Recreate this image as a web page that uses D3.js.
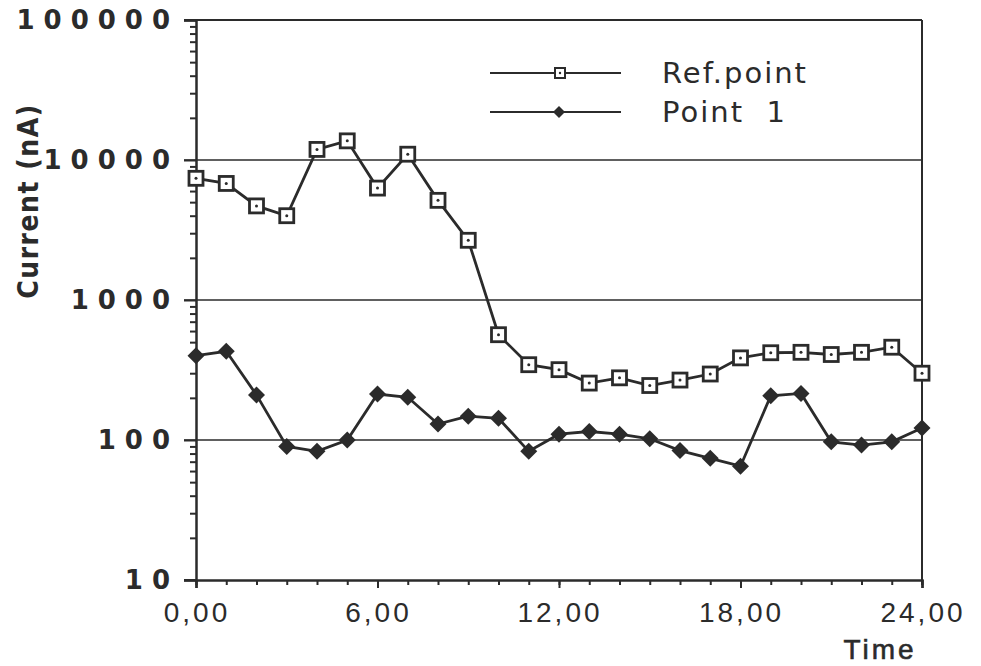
<!DOCTYPE html>
<html>
<head>
<meta charset="utf-8">
<script src="https://cdn.jsdelivr.net/npm/d3@7"></script>
<style>
  html, body { margin: 0; padding: 0; background: #fff; }
  svg { display: block; }
</style>
</head>
<body>
<svg id="chart" width="981" height="666"></svg>
<script>
const hours = d3.range(0, 25);
const refPoint = [7400, 6800, 4700, 4000, 11900, 13700, 6300, 11000, 5150, 2670, 565, 345, 318, 255, 278, 245, 268, 296, 386, 420, 423, 408, 423, 460, 300];
const point1 = [400, 430, 210, 90, 83, 100, 213, 202, 130, 148, 143, 83, 110, 115, 110, 102, 84, 74, 65, 207, 215, 97, 92, 97, 122];
const yTicks = [10, 100, 1000, 10000, 100000];
const xTicks = [0, 6, 12, 18, 24];
const xTickLabels = ["0,00", "6,00", "12,00", "18,00", "24,00"];
const gridValues = [100, 1000, 10000];

const ink = "#2b2b2b";
const svg = d3.select("#chart");
const x = d3.scaleLinear().domain([0, 24]).range([196, 922]);
const y = d3.scaleLog().domain([10, 100000]).range([580, 20]);

// gridlines
svg.append("g").selectAll("line").data(gridValues).join("line")
  .attr("x1", x(0) - 12).attr("x2", x(24))
  .attr("y1", d => y(d)).attr("y2", d => y(d))
  .attr("stroke", ink).attr("stroke-width", 1.6);

// top and right frame
svg.append("line").attr("x1", x(0) - 12).attr("x2", x(24)).attr("y1", y(100000)).attr("y2", y(100000))
  .attr("stroke", ink).attr("stroke-width", 2);
svg.append("line").attr("x1", x(24)).attr("x2", x(24)).attr("y1", y(100000)).attr("y2", y(10) + 5)
  .attr("stroke", ink).attr("stroke-width", 2);

// y axis
const minorY = [];
for (let e = 1; e < 5; e++) for (let m = 2; m <= 9; m++) minorY.push(m * Math.pow(10, e));
const yAxis = d3.axisLeft(y).tickValues(yTicks).tickSize(12).tickFormat("");
const gy = svg.append("g").attr("transform", `translate(${x(0)},0)`).call(yAxis);
gy.select(".domain").attr("stroke", ink).attr("stroke-width", 2.5);
gy.selectAll(".tick line").attr("stroke", ink).attr("stroke-width", 2);
const gyMinor = svg.append("g").attr("transform", `translate(${x(0)},0)`)
  .call(d3.axisLeft(y).tickValues(minorY).tickSize(6).tickFormat(""));
gyMinor.select(".domain").remove();
gyMinor.selectAll(".tick line").attr("stroke", ink).attr("stroke-width", 2);

svg.append("g").selectAll("text").data(yTicks).join("text")
  .attr("x", 179).attr("y", d => y(d)).attr("dy", "0.36em")
  .attr("text-anchor", "end")
  .attr("font-family", "DejaVu Sans, sans-serif").attr("font-weight", "bold").attr("font-size", 26)
  .attr("letter-spacing", 9).attr("fill", ink)
  .text(d => String(d));

// x axis
const xAxis = d3.axisBottom(x).tickValues(xTicks).tickSize(8).tickFormat("");
const gx = svg.append("g").attr("transform", `translate(0,${y(10)})`).call(xAxis);
gx.select(".domain").attr("stroke", ink).attr("stroke-width", 2.5);
gx.selectAll(".tick line").attr("stroke", ink).attr("stroke-width", 2);
const gxMinor = svg.append("g").attr("transform", `translate(0,${y(10)})`)
  .call(d3.axisBottom(x).tickValues(hours).tickSize(5).tickFormat(""));
gxMinor.select(".domain").remove();
gxMinor.selectAll(".tick line").attr("stroke", ink).attr("stroke-width", 2);
svg.append("line").attr("x1", x(0) - 12).attr("x2", x(0)).attr("y1", y(10)).attr("y2", y(10))
  .attr("stroke", ink).attr("stroke-width", 2);

svg.append("g").selectAll("text").data(xTicks).join("text")
  .attr("x", d => x(d) + 1).attr("y", 622)
  .attr("text-anchor", "middle")
  .attr("font-family", "Liberation Sans Narrow, Liberation Sans, sans-serif").attr("font-size", 28)
  .attr("letter-spacing", 3).attr("fill", ink)
  .text((d, i) => xTickLabels[i]);

svg.append("text").attr("x", 880).attr("y", 659).attr("text-anchor", "middle")
  .attr("font-family", "Liberation Sans Narrow, Liberation Sans, sans-serif").attr("font-size", 28)
  .attr("stroke", ink).attr("stroke-width", 0.6)
  .attr("letter-spacing", 3).attr("fill", ink).text("Time");

svg.append("text").attr("transform", "translate(38,201) rotate(-90)")
  .attr("text-anchor", "middle")
  .attr("font-family", "DejaVu Sans Condensed, DejaVu Sans, sans-serif").attr("font-weight", "bold")
  .attr("font-size", 28).attr("letter-spacing", 1.5).attr("fill", ink).text("Current (nA)");

// lines
const line = d3.line().x((d, i) => x(hours[i])).y(d => y(d));
svg.append("path").datum(refPoint).attr("d", line).attr("fill", "none")
  .attr("stroke", ink).attr("stroke-width", 2.8);
svg.append("path").datum(point1).attr("d", line).attr("fill", "none")
  .attr("stroke", ink).attr("stroke-width", 2.8);

function squareMarker(g, cx, cy) {
  g.append("rect").attr("x", cx - 7).attr("y", cy - 7).attr("width", 14).attr("height", 14)
    .attr("fill", "#fff").attr("stroke", ink).attr("stroke-width", 2.8);
  g.append("circle").attr("cx", cx).attr("cy", cy).attr("r", 1.5).attr("fill", ink);
}
function diamondMarker(g, cx, cy, s) {
  g.append("path").attr("d", `M${cx},${cy - s}L${cx + s},${cy}L${cx},${cy + s}L${cx - s},${cy}Z`)
    .attr("fill", ink);
}
const gm = svg.append("g");
refPoint.forEach((v, i) => squareMarker(gm, x(hours[i]), y(v)));
point1.forEach((v, i) => diamondMarker(gm, x(hours[i]), y(v), 8.5));

// legend
const lg = svg.append("g");
const legendItems = [
  { label: "Ref.point", ly: 73, type: "square" },
  { label: "Point  1", ly: 112, type: "diamond" }
];
legendItems.forEach(item => {
  lg.append("line").attr("x1", 490).attr("x2", 621).attr("y1", item.ly).attr("y2", item.ly)
    .attr("stroke", ink).attr("stroke-width", 2);
  if (item.type === "square") {
    lg.append("rect").attr("x", 555).attr("y", item.ly - 5).attr("width", 10).attr("height", 10)
      .attr("fill", "#fff").attr("stroke", ink).attr("stroke-width", 2);
    lg.append("circle").attr("cx", 560).attr("cy", item.ly).attr("r", 1.2).attr("fill", ink);
  } else {
    diamondMarker(lg, 559, item.ly, 6);
  }
  lg.append("text").attr("x", 662).attr("y", item.ly).attr("dy", "0.36em")
    .attr("font-family", "DejaVu Sans, sans-serif").attr("font-size", 29)
    .attr("letter-spacing", 2).attr("fill", ink)
    .style("white-space", "pre").attr("xml:space", "preserve")
    .text(item.label);
});
</script>
</body>
</html>
